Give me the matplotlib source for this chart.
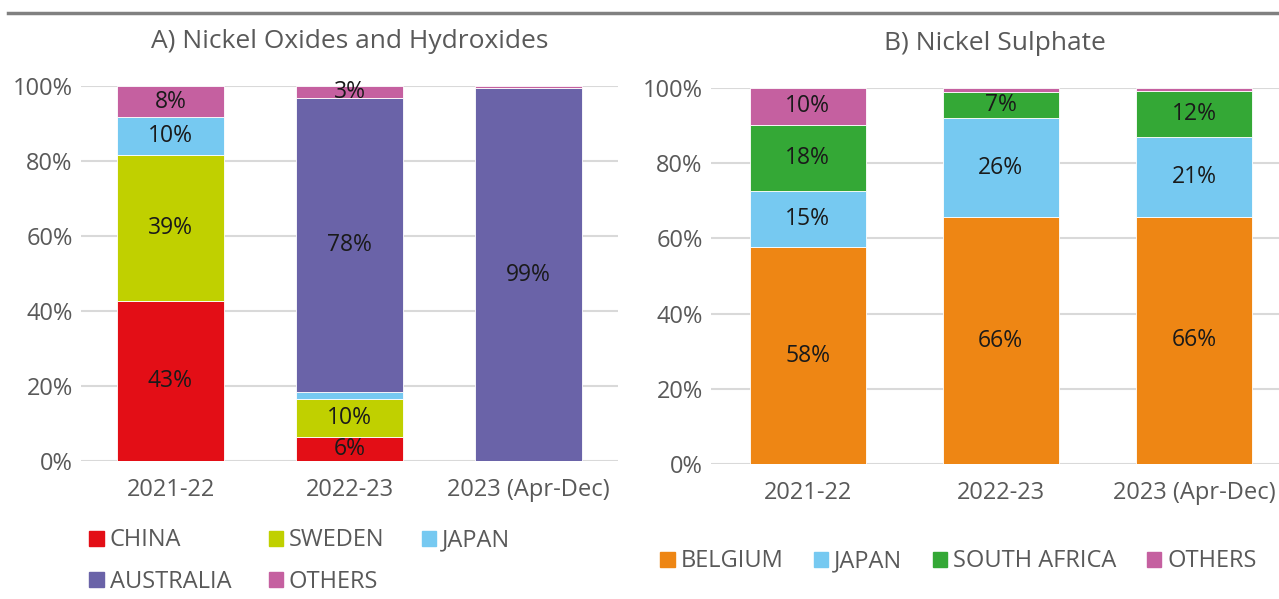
import matplotlib.pyplot as plt
from matplotlib.patches import Patch
from matplotlib.lines import Line2D

years = ['2021-22', '2022-23', '2023 (Apr-Dec)']

# A) Nickel Oxides and Hydroxides, share in %
a_names = ['CHINA', 'SWEDEN', 'JAPAN', 'AUSTRALIA', 'OTHERS']
a_china = [42.7, 6.3, 0.0]
a_sweden = [38.9, 10.2, 0.0]
a_japan = [10.1, 1.9, 0.0]
a_australia = [0.0, 78.4, 99.4]
a_others = [8.3, 3.2, 0.6]
a_colors = ['#e30e16', '#c0d000', '#76c9f1', '#6a63a8', '#c560a0']

# B) Nickel Sulphate, share in %
b_names = ['BELGIUM', 'JAPAN', 'SOUTH AFRICA', 'OTHERS']
b_belgium = [57.7, 65.6, 65.7]
b_japan = [14.9, 26.3, 21.4]
b_safrica = [17.6, 7.0, 12.1]
b_others = [9.8, 1.1, 0.8]
b_colors = ['#ee8614', '#76c9f1', '#34a836', '#c560a0']

plt.rcParams['font.family'] = ['Open Sans', 'DejaVu Sans']
grey = '#595959'

fig = plt.figure(figsize=(12.79, 5.99), dpi=100)
W, H = 1279, 599


def stacked(ax, series, colors, title, xmax):
    x = range(len(years))
    bottom = [0.0] * len(years)
    for vals, c in zip(series, colors):
        ax.bar(x, vals, 0.6, bottom=bottom, color=c, edgecolor='white',
               linewidth=0.6, zorder=3)
        for i, v in enumerate(vals):
            if v >= 2.5:
                ax.text(i, bottom[i] + v / 2, '%d%%' % round(v), ha='center',
                        va='center', fontsize=16.5, color='#1a1a1a', zorder=4)
        bottom = [b + v for b, v in zip(bottom, vals)]
    ax.set_xlim(-0.5, xmax)
    ax.set_ylim(0, 100)
    ax.set_yticks(range(0, 101, 20))
    ax.set_yticklabels(['%d%%' % t for t in range(0, 101, 20)])
    ax.set_xticks(list(x))
    ax.set_xticklabels(years)
    ax.tick_params(length=0, labelsize=17, labelcolor=grey)
    ax.tick_params(axis='x', pad=12)
    ax.tick_params(axis='y', pad=6)
    ax.yaxis.grid(True, color='#d9d9d9', linewidth=1.5, zorder=0)
    for s in ax.spines.values():
        s.set_visible(False)
    ax.set_title(title, fontsize=19, color=grey, pad=27)


ax1 = fig.add_axes([81 / W, 1 - 461 / H, 537 / W, 375 / H])
stacked(ax1, [a_china, a_sweden, a_japan, a_australia, a_others], a_colors,
        'A) Nickel Oxides and Hydroxides', 2.5)

ax2 = fig.add_axes([711 / W, 1 - 464 / H, 568 / W, 376 / H])
stacked(ax2, [b_belgium, b_japan, b_safrica, b_others], b_colors,
        'B) Nickel Sulphate', 2.44)

# legend filled column by column, so reorder to read row by row
order = [0, 3, 1, 4, 2]
h1 = [Patch(color=a_colors[i]) for i in order]
fig.legend(h1, [a_names[i] for i in order], loc='upper left',
           bbox_to_anchor=(80 / W, 1 - 519 / H),
           ncol=3, frameon=False, fontsize=17, labelcolor=grey,
           handlelength=0.6, handleheight=0.6, handletextpad=0.25,
           columnspacing=1.6, labelspacing=0.75, borderaxespad=0)

h2 = [Patch(color=c) for c in b_colors]
fig.legend(h2, b_names, loc='upper left', bbox_to_anchor=(651 / W, 1 - 540 / H),
           ncol=4, frameon=False, fontsize=17, labelcolor=grey,
           handlelength=0.6, handleheight=0.6, handletextpad=0.25,
           columnspacing=1.3, borderaxespad=0)

fig.add_artist(Line2D([8 / W, 1], [1 - 13 / H, 1 - 13 / H], color='#808080',
                      linewidth=2.5, transform=fig.transFigure))

fig.savefig('out.png', dpi=100)
